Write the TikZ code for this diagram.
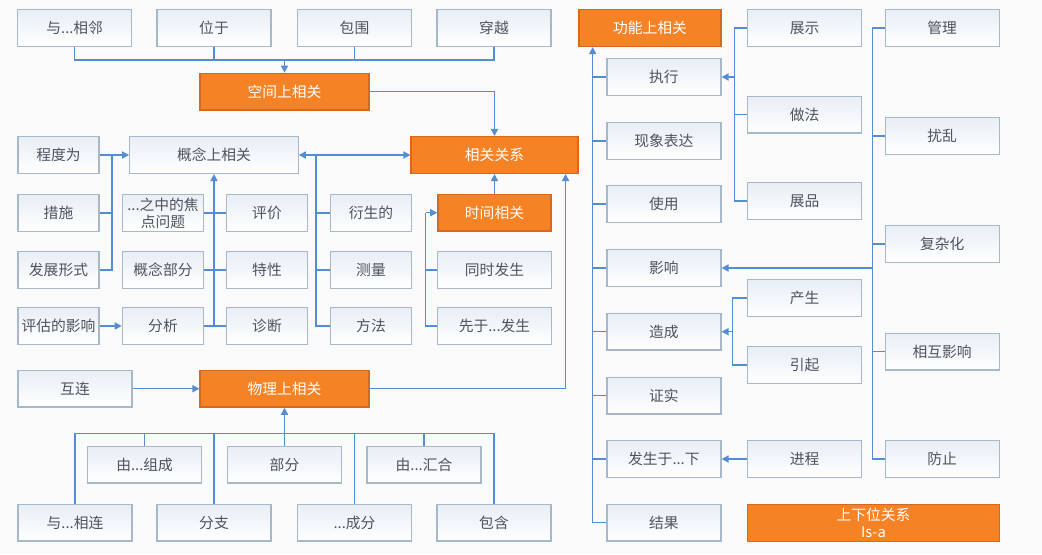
\documentclass[tikz,border=0pt]{standalone}
\usepackage{fontspec}
\setmainfont{Noto Sans CJK SC}
\usetikzlibrary{arrows.meta,calc}

\definecolor{linkblue}{RGB}{84,141,212}
\definecolor{boxline}{RGB}{168,184,200}
\definecolor{boxtop}{RGB}{232,238,245}
\definecolor{itemtext}{RGB}{78,84,94}
\definecolor{hubfill}{RGB}{246,130,38}
\definecolor{hubline}{RGB}{214,104,32}
\definecolor{paper}{RGB}{250,250,250}

\begin{document}
\begin{tikzpicture}[x=0.025cm, y=-0.025cm,
    font=\fontsize{10.5}{12}\selectfont,
    >={Triangle[length=5pt,width=5pt]},
    link/.style={draw=linkblue, line width=1.1pt},
    leaf/.style={draw=boxline, line width=0.9pt, top color=boxtop, bottom color=white,
        text=itemtext, minimum width=2.85cm, minimum height=0.92cm, inner sep=1pt, align=center},
    shortbox/.style={leaf, minimum width=2.03cm},
    hub/.style={draw=hubline, line width=0.9pt, fill=hubfill, text=white,
        minimum height=0.92cm, inner sep=1pt, align=center}]

    \fill[paper] (0,0) rectangle (1042,554);
    \useasboundingbox (0,0) rectangle (1042,554);

    % spatial
    \node[leaf] (ln) at (74.7,28) {与...相邻};
    \node[leaf] (wy) at (214,28) {位于};
    \node[leaf] (bw) at (354.5,28) {包围};
    \node[leaf] (cy) at (494,28) {穿越};
    \node[hub, minimum width=4.22cm] (kj) at (284.5,91.7) {空间上相关};
    \node[hub, minimum width=4.17cm] (xg) at (494.5,155) {相关关系};

    % conceptual
    \node[shortbox] (cd) at (58.5,155) {程度为};
    \node[leaf, minimum width=4.21cm] (gn) at (214,155) {概念上相关};
    \node[shortbox] (cs) at (58.5,213) {措施};
    \node[shortbox] (fz) at (58.5,270) {发展形式};
    \node[shortbox] (pg) at (58.5,326) {评估的影响};
    \node[shortbox] (jd) at (163,213) {...之中的焦\\点问题};
    \node[shortbox] (gb) at (163,270) {概念部分};
    \node[shortbox] (fx) at (163,326) {分析};
    \node[shortbox] (pj) at (267,213) {评价};
    \node[shortbox] (tx) at (267,270) {特性};
    \node[shortbox] (zd) at (267,326) {诊断};
    \node[shortbox] (ys) at (371,213) {衍生的};
    \node[shortbox] (cl) at (371,270) {测量};
    \node[shortbox] (fa) at (371,326) {方法};

    % temporal
    \node[hub, minimum width=2.83cm] (sj) at (494.5,212.7) {时间相关};
    \node[leaf] (ts) at (494.5,270) {同时发生};
    \node[leaf] (xy) at (494.5,326) {先于...发生};

    % physical
    \node[leaf] (hl) at (75,388.7) {互连};
    \node[hub, minimum width=4.22cm] (wl) at (284.5,388.7) {物理上相关};
    \node[leaf] (zc) at (144.6,464.7) {由...组成};
    \node[leaf] (bf) at (284.5,464.7) {部分};
    \node[leaf] (hh) at (424,464.7) {由...汇合};
    \node[leaf] (ylx) at (75,522.7) {与...相连};
    \node[leaf] (fzh) at (214,522.7) {分支};
    \node[leaf] (cf) at (354.5,522.7) {...成分};
    \node[leaf] (bh) at (494,522.7) {包含};

    % functional
    \node[hub, minimum width=3.55cm] (gg) at (650,28) {功能上相关};
    \node[leaf] (zx) at (663.9,77) {执行};
    \node[leaf] (xd) at (663.9,141) {现象表达};
    \node[leaf] (sy) at (663.9,204) {使用};
    \node[leaf] (yxg) at (663.9,268) {影响};
    \node[leaf] (zcg) at (663.9,331.7) {造成};
    \node[leaf] (zs) at (663.9,395.7) {证实};
    \node[leaf] (fsy) at (663.9,459) {发生于...下};
    \node[leaf] (jg) at (663.9,522.7) {结果};
    \node[leaf] (zsh) at (804.7,28) {展示};
    \node[leaf] (zf) at (804.7,114.7) {做法};
    \node[leaf] (zp) at (804.7,201) {展品};
    \node[leaf] (cs2) at (804.7,297.8) {产生};
    \node[leaf] (yq) at (804.7,365) {引起};
    \node[leaf] (jc) at (804.7,459) {进程};
    \node[leaf] (gl) at (942.2,28) {管理};
    \node[leaf] (rl) at (942.2,136) {扰乱};
    \node[leaf] (fzx) at (942.2,244) {复杂化};
    \node[leaf] (hx) at (942.2,351.7) {相互影响};
    \node[leaf] (fzh2) at (942.2,459) {防止};
    \node[hub, minimum width=6.29cm] (sx) at (873.5,523) {上下位关系\\Is-a};

    % spatial links
    \coordinate (bus1) at (284.5,60);
    \draw[link] (ln.south) |- (bus1);
    \draw[link] (wy.south) |- (bus1);
    \draw[link] (bw.south) |- (bus1);
    \draw[link] (cy.south) |- (bus1);
    \draw[link, ->] (bus1) -- (kj.north);
    \draw[link, ->] (kj.east) -| (xg.north);

    % conceptual links
    \coordinate (j1) at (112,155);
    \draw[link, ->] (cd.east) -- (gn.west);
    \draw[link] (cs.east) -| (j1);
    \draw[link] (fz.east) -| (j1);
    \draw[link, ->] (pg.east) -- (fx.west);
    \draw[link] (jd.east) -- (pj.west);
    \draw[link] (gb.east) -- (tx.west);
    \draw[link] (fx.east) -- (zd.west);
    \draw[link, ->] (fx.east) -| (gn.south);
    \coordinate (j2) at (316,155);
    \draw[link, <->] (gn.east) -- (xg.west);
    \draw[link] (ys.west) -| (j2);
    \draw[link] (cl.west) -| (j2);
    \draw[link] (fa.west) -| (j2);

    % temporal links
    \coordinate (j3) at (425.5,212.7);
    \draw[link, ->] (sj.north) -- (xg.south);
    \draw[link] (ts.west) -| (j3);
    \draw[link] (xy.west) -| (j3);
    \draw[link, ->] (j3) -- (sj.west);

    % physical links
    \coordinate (bus2) at (284.5,433.3);
    \draw[link, ->] (hl.east) -- (wl.west);
    \draw[link, ->] (bf.north) -- (wl.south);
    \draw[link] (zc.north) |- (bus2);
    \draw[link] (hh.north) |- (bus2);
    \draw[link] (ylx.north) |- (bus2);
    \draw[link] (fzh.north) |- (bus2);
    \draw[link] (cf.north) |- (bus2);
    \draw[link] (bh.north) |- (bus2);
    \draw[link, ->] (wl.east) -| ($(xg.south east)+(-13,0)$);

    % functional links
    \coordinate (sp) at (593.3,46.7);
    \draw[link, ->] (jg.west) -| ($(gg.south west)+(14.3,0)$);
    \foreach \n in {zx,xd,sy,yxg,zcg,zs,fsy}
        \draw[link] (\n.west) -- (\n.west -| sp);
    \coordinate (b1) at (734.3,77);
    \draw[link] (zsh.west) -| (b1);
    \draw[link] (zp.west) -| (b1);
    \draw[link] (zf.west) -- (zf.west -| b1);
    \draw[link, ->] (b1) -- (zx.east);
    \coordinate (b2) at (732.3,331.7);
    \draw[link] (cs2.west) -| (b2);
    \draw[link] (yq.west) -| (b2);
    \draw[link, ->] (b2) -- (zcg.east);
    \draw[link, ->] (jc.west) -- (fsy.east);
    \coordinate (b3) at (872.3,268);
    \draw[link] (gl.west) -| (b3);
    \draw[link] (fzh2.west) -| (b3);
    \draw[link] (rl.west) -- (rl.west -| b3);
    \draw[link] (fzx.west) -- (fzx.west -| b3);
    \draw[link] (hx.west) -- (hx.west -| b3);
    \draw[link, ->] (b3) -- (yxg.east);
\end{tikzpicture}
\end{document}
